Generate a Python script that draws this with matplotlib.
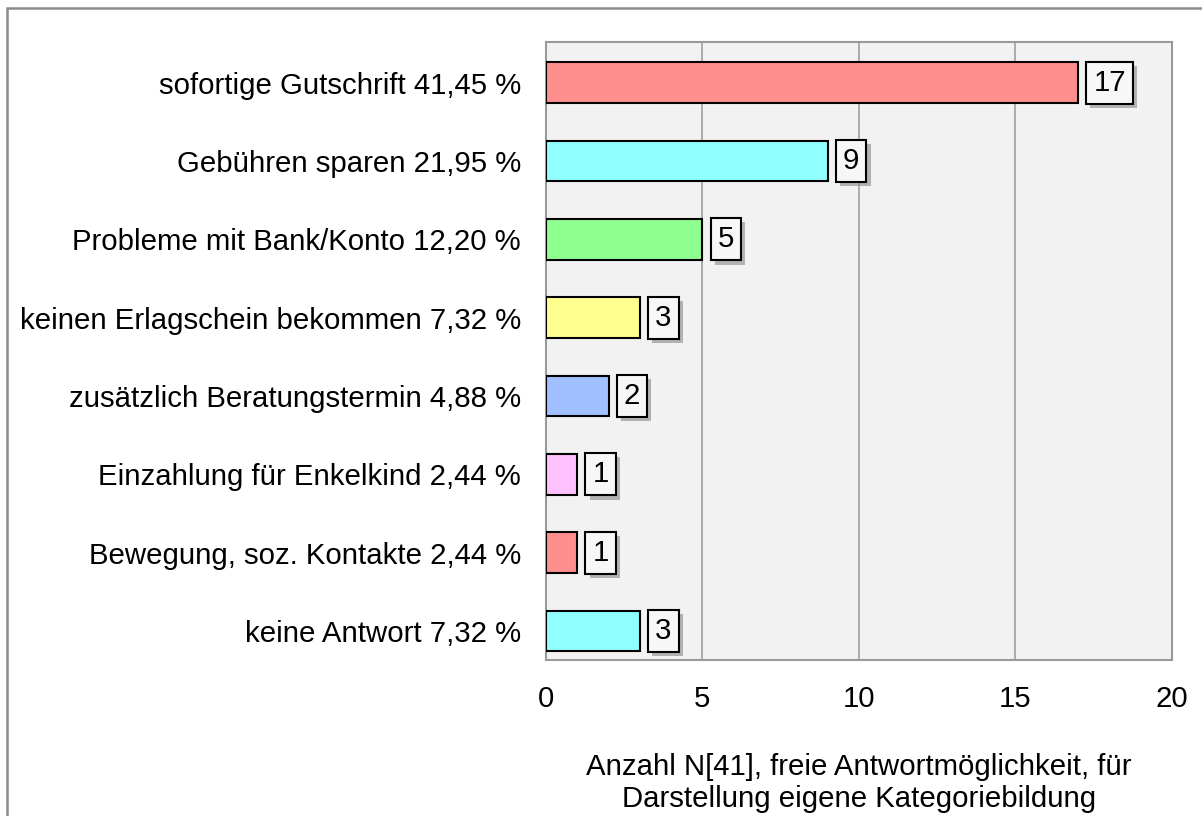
import matplotlib.pyplot as plt
import matplotlib.patheffects as pe
from matplotlib.patches import Rectangle

plt.rcParams['font.family'] = ['Liberation Sans', 'DejaVu Sans']

# Kategorien (von oben nach unten)
labels = ['sofortige Gutschrift 41,45 %',
          'Gebühren sparen 21,95 %',
          'Probleme mit Bank/Konto 12,20 %',
          'keinen Erlagschein bekommen 7,32 %',
          'zusätzlich Beratungstermin 4,88 %',
          'Einzahlung für Enkelkind 2,44 %',
          'Bewegung, soz. Kontakte 2,44 %',
          'keine Antwort 7,32 %']
counts = [17, 9, 5, 3, 2, 1, 1, 3]
colors = ['#ff8f8f', '#8fffff', '#8fff8f', '#ffff8f',
          '#a0c0ff', '#ffc0ff', '#ff8f8f', '#8fffff']
xticks = [0, 5, 10, 15, 20]

fs = 21.2

fig = plt.figure(figsize=(12.02, 8.16), dpi=100)
ax = fig.add_axes([0.4542, 0.1912, 0.5208, 0.7574])

# Rahmen um das ganze Diagramm
fig.patches.append(Rectangle((7 / 1202, -0.1), 1.2, 1 - 8 / 816 + 0.1,
                             transform=fig.transFigure, fill=False,
                             edgecolor='#8c8c8c', linewidth=1.8))

ax.set_facecolor('#f2f2f2')
ypos = list(range(len(labels)))
ax.barh(ypos, counts, height=0.52, color=colors, edgecolor='black',
        linewidth=1.5, zorder=3)

for y, v in zip(ypos, counts):
    t = ax.annotate(str(v), xy=(v, y), xytext=(11, 0), textcoords='offset points',
                    ha='left', va='center', fontsize=fs, zorder=4,
                    bbox=dict(boxstyle='square,pad=0.24', facecolor='#f7f7f7',
                              edgecolor='black', linewidth=1.5))
    t.get_bbox_patch().set_path_effects([
        pe.SimplePatchShadow(offset=(3, -3), shadow_rgbFace='#888888', alpha=0.6),
        pe.Normal()])

ax.set_xlim(0, 20)
ax.set_ylim(7.37, -0.52)
ax.set_xticks(xticks)
ax.set_yticks(ypos)
ax.set_yticklabels(labels)
ax.tick_params(axis='both', length=0, labelsize=fs)
ax.tick_params(axis='y', pad=18)
ax.tick_params(axis='x', pad=18)
ax.xaxis.grid(True, color='#a0a0a0', linewidth=1.2, zorder=0)
ax.set_axisbelow(True)
for s in ax.spines.values():
    s.set_color('#999999')
    s.set_linewidth(1.5)

ax.set_xlabel('Anzahl N[41], freie Antwortmöglichkeit, für\nDarstellung eigene Kategoriebildung',
              fontsize=fs, labelpad=28.5, linespacing=1.2)

fig.savefig('out.png', dpi=100)
